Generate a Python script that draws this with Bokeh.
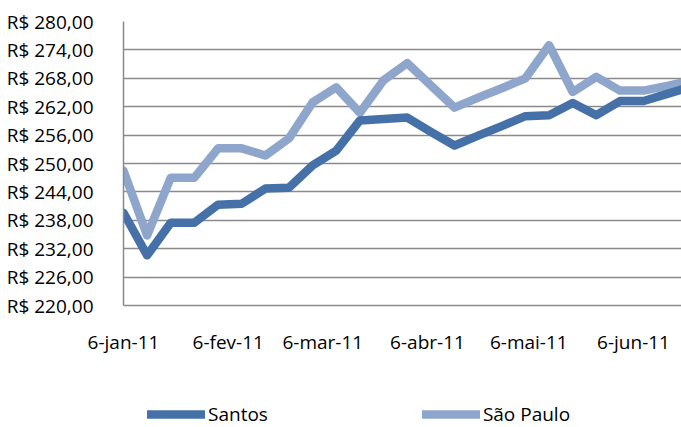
import pandas as pd
from bokeh.plotting import figure
from bokeh.layouts import column
from bokeh.models import Range1d, FixedTicker, Legend, LegendItem, ColumnDataSource
from bokeh.embed import file_html
from bokeh.resources import INLINE

# ---- data ----
dates = ["2011-01-06", "2011-01-13", "2011-01-20", "2011-01-27", "2011-02-03",
         "2011-02-10", "2011-02-17", "2011-02-24", "2011-03-03", "2011-03-10",
         "2011-03-17", "2011-03-24", "2011-03-31", "2011-04-07", "2011-04-14",
         "2011-04-21", "2011-04-28", "2011-05-05", "2011-05-12", "2011-05-19",
         "2011-05-26", "2011-06-02", "2011-06-09", "2011-06-16", "2011-06-23"]
santos = [239.6, 230.6, 237.5, 237.5, 241.3, 241.5, 244.7, 244.9, 249.6, 252.7,
          259.1, 259.4, 259.7, 256.7, 253.8, 255.9, 257.9, 260.0, 260.2, 262.8,
          260.2, 263.2, 263.2, 264.7, 266.2]
sao_paulo = [248.5, 234.8, 247.0, 247.0, 253.2, 253.2, 251.7, 255.3, 262.9, 266.1,
             260.7, 267.6, 271.2, 266.5, 261.8, 263.9, 265.9, 268.0, 275.0, 265.1,
             268.3, 265.4, 265.4, 266.4, 267.5]
series_names = ["Santos", "São Paulo"]

x_tick_dates = ["2011-01-06", "2011-02-06", "2011-03-06", "2011-04-06", "2011-05-06", "2011-06-06"]
x_tick_labels = ["6-jan-11", "6-fev-11", "6-mar-11", "6-abr-11", "6-mai-11", "6-jun-11"]
y_ticks = [220, 226, 232, 238, 244, 250, 256, 262, 268, 274, 280]
y_tick_labels = ["R$ 220,00", "R$ 226,00", "R$ 232,00", "R$ 238,00", "R$ 244,00", "R$ 250,00",
                 "R$ 256,00", "R$ 262,00", "R$ 268,00", "R$ 274,00", "R$ 280,00"]
x_start = "2011-01-06"
x_end = "2011-06-20 05:00"


def to_ms(s):
    return int((pd.Timestamp(s) - pd.Timestamp("1970-01-01")) // pd.Timedelta(milliseconds=1))


src = ColumnDataSource(dict(x=[to_ms(d) for d in dates], santos=santos, sp=sao_paulo))

FONT = "Open Sans"
FS = "19px"
DARK = "#4571A8"
LIGHT = "#8EA6CC"
GRID = "#8A8A8A"
LW = 8.5

p = figure(width=681, height=388, output_backend="svg", toolbar_location=None,
           x_axis_type="datetime",
           x_range=Range1d(to_ms(x_start), to_ms(x_end)),
           y_range=Range1d(220, 280),
           min_border_left=123, min_border_right=0, min_border_top=21, min_border_bottom=83)
p.outline_line_color = None

p.line("x", "sp", source=src, line_color=LIGHT, line_width=LW,
       line_join="round", line_cap="round")
p.line("x", "santos", source=src, line_color=DARK, line_width=LW,
       line_join="round", line_cap="round")

xt = [to_ms(d) for d in x_tick_dates]
p.xaxis.ticker = FixedTicker(ticks=xt)
p.xaxis.major_label_overrides = {t: l for t, l in zip(xt, x_tick_labels)}
p.xaxis.axis_line_color = GRID
p.xaxis.axis_line_width = 1.5
p.xaxis.major_tick_line_color = None
p.xaxis.minor_tick_line_color = None
p.xaxis.major_label_standoff = 17
p.xaxis.major_label_text_font = FONT
p.xaxis.major_label_text_font_size = FS
p.xaxis.major_label_text_color = "black"

p.yaxis.ticker = FixedTicker(ticks=y_ticks)
p.yaxis.major_label_overrides = {t: l for t, l in zip(y_ticks, y_tick_labels)}
p.yaxis.axis_line_color = GRID
p.yaxis.axis_line_width = 1.5
p.yaxis.major_tick_line_color = None
p.yaxis.minor_tick_line_color = None
p.yaxis.major_label_standoff = 24
p.yaxis.major_label_text_font = FONT
p.yaxis.major_label_text_font_size = FS
p.yaxis.major_label_text_color = "black"

p.xgrid.grid_line_color = None
p.ygrid.grid_line_color = GRID
p.ygrid.grid_line_width = 1.5

# ---- legend strip (same series, drawn outside its own view so only the legend shows) ----
lg = figure(width=681, height=39, output_backend="svg", toolbar_location=None,
            x_range=Range1d(0, 1), y_range=Range1d(0, 1),
            min_border_left=0, min_border_right=0, min_border_top=0, min_border_bottom=0)
lg.outline_line_color = None
lg.xaxis.visible = False
lg.yaxis.visible = False
lg.xgrid.visible = False
lg.ygrid.visible = False
l1 = lg.line("x", "santos", source=src, line_color=DARK, line_width=LW,
             line_join="round", line_cap="round")
l2 = lg.line("x", "sp", source=src, line_color=LIGHT, line_width=LW,
             line_join="round", line_cap="round")

legend = Legend(items=[LegendItem(label=series_names[0], renderers=[l1]),
                       LegendItem(label=series_names[1], renderers=[l2])],
                orientation="horizontal", location=(24, 0))
legend.glyph_width = 58
legend.glyph_height = 20
legend.label_standoff = 3
legend.spacing = 154
legend.padding = 0
legend.margin = 0
legend.border_line_color = None
legend.background_fill_alpha = 0
legend.label_text_font = FONT
legend.label_text_font_size = FS
legend.label_text_color = "black"
lg.add_layout(legend, "center")

layout = column(p, lg, spacing=0)
open("out.html", "w").write(file_html(layout, INLINE))
